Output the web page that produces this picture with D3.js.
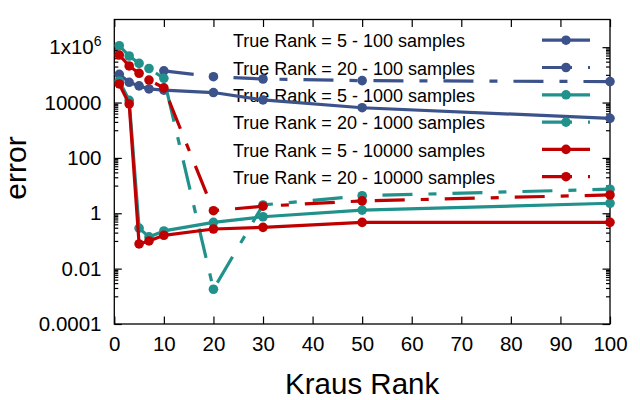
<!DOCTYPE html>
<html>
<head>
<meta charset="utf-8">
<style>
  html, body { margin: 0; padding: 0; background: #fff; }
  svg text { font-family: "Liberation Sans", Arial, sans-serif; fill: #000; }
</style>
</head>
<body>
<div id="chart"></div>
<script src="https://cdn.jsdelivr.net/npm/d3@7"></script>
<script>
// Kraus rank values on the x axis
const krausAll = [1, 3, 5, 7, 10, 20, 30, 50, 100];
const krausFrom10 = [10, 20, 30, 50, 100];

// error values
const rank5_100    = [1.05e5, 5.4e4, 4.0e4, 3.1e4, 2.8e4, 2.3e4, 1.24e4, 6.5e3, 2.7e3];
const rank20_100   = [1.4e5, 8.6e4, 7.1e4, 6.2e4, 5.7e4];
const rank5_1000   = [6.0e4, 1.2e4, 0.29, 0.14, 0.23, 0.47, 0.75, 1.3, 2.3];
const rank20_1000  = [1.13e6, 4.8e5, 2.6e5, 1.7e5, 7.5e4, 0.0018, 2.0, 4.3, 7.4];
const rank5_10000  = [4.7e4, 8.9e3, 0.078, 0.10, 0.16, 0.27, 0.31, 0.47, 0.47];
const rank20_10000 = [5.2e5, 2.1e5, 1.14e5, 6.5e4, 3.4e4, 1.24, 1.8, 2.8, 4.6];

const seriesNames = [
  "True Rank = 5 - 100 samples",
  "True Rank = 20 - 100 samples",
  "True Rank = 5 - 1000 samples",
  "True Rank = 20 - 1000 samples",
  "True Rank = 5 - 10000 samples",
  "True Rank = 20 - 10000 samples"
];
const seriesX = [krausAll, krausFrom10, krausAll, krausAll, krausAll, krausAll];
const seriesY = [rank5_100, rank20_100, rank5_1000, rank20_1000, rank5_10000, rank20_10000];

const xTicks = [0, 10, 20, 30, 40, 50, 60, 70, 80, 90, 100];
const yTicks = [1e-4, 1e-2, 1, 1e2, 1e4, 1e6];
const yTickLabels = ["0.0001", "0.01", "1", "100", "10000", "1x10^6"];

// styles
const colors = ["#3b528b", "#3b528b", "#21918c", "#21918c", "#c00000", "#c00000"];
const dashes = [null, "30,16,8,16", null, "30,16,8,16", null, "30,16,8,16"];

const W = 640, H = 400;
const plotL = 114.3, plotR = 610, plotT = 19.5, plotB = 324;

const svg = d3.select("#chart").append("svg")
  .attr("width", W).attr("height", H);

const x = d3.scaleLinear().domain([0, 100]).range([plotL, plotR]);
const y = d3.scaleLog().domain([1e-4, 1e7]).range([plotB, plotT]);

const minorY = [];
yTicks.forEach(m => { for (let j = 1; j <= 9; j++) { const v = m * j / 10; if (v >= 1e-4) minorY.push(v); } });

// axes, ticks pointing inward like gnuplot
svg.append("g").attr("transform", `translate(0,${plotB})`)
  .call(d3.axisBottom(x).tickValues(xTicks).tickSizeInner(-7.5).tickSizeOuter(0).tickPadding(12.5));
svg.append("g").attr("transform", `translate(0,${plotT})`)
  .call(d3.axisTop(x).tickValues(xTicks).tickSizeInner(-7.5).tickSizeOuter(0).tickFormat(""));

const gy = svg.append("g").attr("transform", `translate(${plotL},0)`)
  .call(d3.axisLeft(y).tickValues(yTicks).tickSizeInner(-7.5).tickSizeOuter(0).tickPadding(12.8)
    .tickFormat((d, i) => yTickLabels[i]));
svg.append("g").attr("transform", `translate(${plotL},0)`)
  .call(d3.axisLeft(y).tickValues(minorY).tickSizeInner(-4).tickSizeOuter(0).tickFormat(""));
svg.append("g").attr("transform", `translate(${plotR},0)`)
  .call(d3.axisRight(y).tickValues(yTicks).tickSizeInner(-7.5).tickSizeOuter(0).tickFormat(""));
svg.append("g").attr("transform", `translate(${plotR},0)`)
  .call(d3.axisRight(y).tickValues(minorY).tickSizeInner(-4).tickSizeOuter(0).tickFormat(""));

svg.selectAll(".domain").remove();
svg.selectAll(".tick line").attr("stroke", "#000").attr("stroke-width", 1.2);
svg.selectAll(".tick text").attr("font-size", "20.5px").attr("font-family", null);

// superscript for 1x10^6
gy.selectAll(".tick text").filter(d => d === 1e6).each(function () {
  const t = d3.select(this).text("");
  t.append("tspan").text("1x10");
  t.append("tspan").attr("font-size", "14px").attr("dy", "-8").text("6");
});

svg.append("rect")
  .attr("x", plotL).attr("y", plotT)
  .attr("width", plotR - plotL).attr("height", plotB - plotT)
  .attr("fill", "none").attr("stroke", "#000").attr("stroke-width", 1.3);

// axis titles
svg.append("text")
  .attr("x", (plotL + plotR) / 2).attr("y", 394)
  .attr("text-anchor", "middle").attr("font-size", "29.5px")
  .text("Kraus Rank");
svg.append("text")
  .attr("transform", `translate(26,168) rotate(-90)`)
  .attr("text-anchor", "middle").attr("font-size", "30px")
  .text("error");

// legend
const legY = i => 41 + i * 27.3;
seriesNames.forEach((name, i) => {
  svg.append("text")
    .attr("x", 233).attr("y", legY(i)).attr("dy", "0.35em")
    .attr("font-size", "18px").text(name);
});

const line = d3.line().x(d => x(d[0])).y(d => y(d[1]));

seriesNames.forEach((name, i) => {
  const pts = seriesX[i].map((k, j) => [k, seriesY[i][j]]);
  const g = svg.append("g");
  g.append("path")
    .attr("d", line(pts))
    .attr("fill", "none")
    .attr("stroke", colors[i])
    .attr("stroke-width", 3.2)
    .attr("stroke-linejoin", "round")
    .attr("stroke-dasharray", dashes[i]);
  g.selectAll("circle").data(pts).join("circle")
    .attr("cx", d => x(d[0])).attr("cy", d => y(d[1]))
    .attr("r", 4.8).attr("fill", colors[i]);

  // legend sample
  g.append("line")
    .attr("x1", 542).attr("x2", 590)
    .attr("y1", legY(i) - 0.8).attr("y2", legY(i) - 0.8)
    .attr("stroke", colors[i]).attr("stroke-width", 3.2)
    .attr("stroke-dasharray", dashes[i]);
  g.append("circle")
    .attr("cx", 566).attr("cy", legY(i) - 0.8)
    .attr("r", 4.8).attr("fill", colors[i]);
});
</script>
</body>
</html>
